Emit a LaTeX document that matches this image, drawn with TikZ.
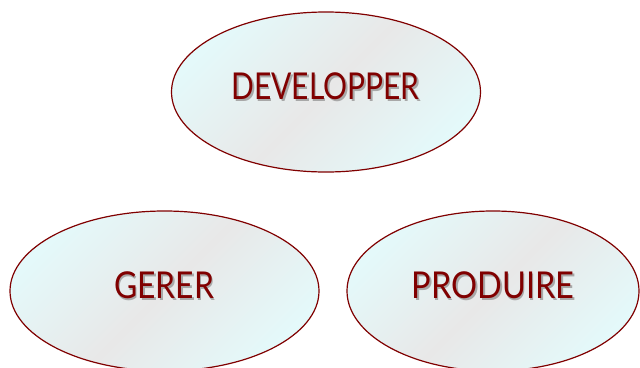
\documentclass[tikz,border=0pt]{standalone}
\usepackage{fontspec}
\setmainfont{Lato}
\usetikzlibrary{shapes.geometric}
\definecolor{dred}{HTML}{800000}
\definecolor{cyanl}{HTML}{E4F9FA}
\definecolor{grayl}{HTML}{E8E8E8}
\definecolor{shad}{HTML}{A8A8A8}
\newcommand{\shadtext}[1]{\rlap{\kern2pt\raisebox{-2pt}{\color{shad}#1}}#1}
\tikzset{
  oval/.style={ellipse, draw=dred, line width=1.2pt, top color=cyanl, bottom color=cyanl, middle color=grayl, shading angle=45, inner sep=0pt},
  lbl/.style={text=dred, font=\fontsize{37}{40}\selectfont, inner sep=0pt}
}
\begin{document}
\begin{tikzpicture}[x=1pt,y=-1pt]
\useasboundingbox (0,0) rectangle (640,367);
\node[oval, minimum width=309pt, minimum height=160pt] (dev) at (326,92) {};
\node[oval, minimum width=309pt, minimum height=160pt] (ger) at (164.5,291) {};
\node[oval, minimum width=292pt, minimum height=160pt] (pro) at (493,291) {};
\node[lbl, xscale=0.81] (devt) at (325.5,87.5) {\shadtext{DEVELOPPER}};
\node[lbl, xscale=0.86] (gert) at (164,286.5) {\shadtext{GERER}};
\node[lbl, xscale=0.88] (prot) at (493,286.5) {\shadtext{PRODUIRE}};
\end{tikzpicture}
\end{document}
